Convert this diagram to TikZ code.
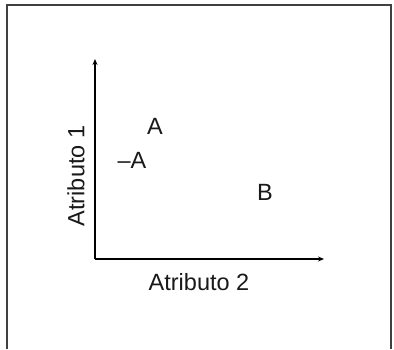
\documentclass[tikz,border=0pt]{standalone}
\usepackage{fontspec}
\setmainfont{Liberation Sans}
\usetikzlibrary{arrows.meta}
\begin{document}
\begin{tikzpicture}[x=1pt,y=1pt,
  lbl/.style={font=\fontsize{23.5}{27}\selectfont, inner sep=0pt, text=black!90},
  axis/.style={line width=1.8pt, -{Stealth[length=6pt,width=5pt]}},
  frame/.style={line width=1.2pt, draw=black!75}]
\useasboundingbox (0,0) rectangle (394,349);
\draw[frame] (7,0) -- (7,344) -- (391,344) -- (391,0);
\coordinate (o) at (95,90);
\coordinate (ytop) at (95,290);
\coordinate (xend) at (324,90);
\draw[axis] (o) -- (ytop);
\draw[axis] (o) -- (xend);
\node[lbl] (a) at (155,223) {A};
\node[lbl] (na) at (132,189) {–A};
\node[lbl] (b) at (265,157) {B};
\node[lbl] (x2) at (199,67) {Atributo 2};
\node[lbl, rotate=90] (y1) at (76,173) {Atributo 1};
\end{tikzpicture}
\end{document}
